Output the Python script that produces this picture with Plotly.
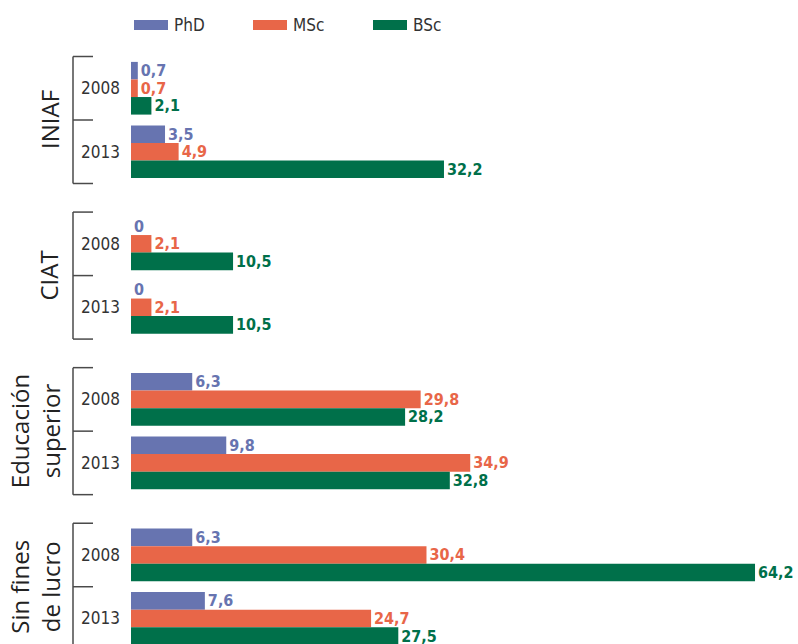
import plotly.graph_objects as go

groups = ["INIAF", "CIAT", "Educación<br>superior", "Sin fines<br>de lucro"]
years = ["2008", "2013"]
series = ["PhD", "MSc", "BSc"]
phd = [0.7, 3.5, 0, 0, 6.3, 9.8, 6.3, 7.6]
msc = [0.7, 4.9, 2.1, 2.1, 29.8, 34.9, 30.4, 24.7]
bsc = [2.1, 32.2, 10.5, 10.5, 28.2, 32.8, 64.2, 27.5]
colors = ["#6774B0", "#E86648", "#00704A"]

W, H = 798, 644
ML = 131
PX_PER_UNIT = 9.72
G = 2.45            # group pitch in slot units
SLOT_PX = 63.5
TOP0 = 88.25        # pixel of first slot centre

pos = [g * G + y for g in range(len(groups)) for y in range(len(years))]


def fmt(v):
    if v == 0:
        return "0"
    return f"{v:.1f}".replace(".", ",")


fig = go.Figure()
NUMFONT = "DejaVu Sans Condensed, Liberation Sans Narrow, sans-serif"
LABFONT = "DejaVu Sans Condensed, Liberation Sans, sans-serif"
for name, vals, col in zip(series, [phd, msc, bsc], colors):
    fig.add_trace(go.Bar(
        name=name, x=vals, y=pos, orientation="h",
        marker=dict(color=col, line=dict(width=0)),
        text=[fmt(v) for v in vals], textposition="outside",
        textfont=dict(family=NUMFONT, size=16, color=col, weight="bold"),
        cliponaxis=False, constraintext="none", showlegend=False,
        hoverinfo="skip",
    ))

def px_to_paper_x(px):
    return (px - ML) / (W - ML)

def px_to_paper_y(py):
    return 1 - py / H

shapes = []
annotations = []
LINE = dict(color="#4a4a4a", width=1.5)
bx0, bx1 = px_to_paper_x(73), px_to_paper_x(93)
for g, lab in enumerate(groups):
    base = g * G
    top, mid, bot = base - 0.5, base + 0.5, base + 1.5
    shapes.append(dict(type="line", xref="paper", yref="y", x0=bx0, x1=bx0, y0=top, y1=bot, line=LINE))
    for yy in (top, mid, bot):
        shapes.append(dict(type="line", xref="paper", yref="y", x0=bx0, x1=bx1, y0=yy, y1=yy, line=LINE))
    two = "<br>" in lab
    annotations.append(dict(
        text=lab, xref="paper", yref="y", x=px_to_paper_x(35 if two else 49), y=base + 0.5,
        textangle=-90, showarrow=False, xanchor="center", yanchor="middle",
        font=dict(family="Open Sans, Noto Sans, sans-serif", size=24, color="#222222"),
    ))
    for yi, yr in enumerate(years):
        annotations.append(dict(
            text=yr, xref="paper", yref="y", x=px_to_paper_x(100), y=base + yi,
            showarrow=False, xanchor="center", yanchor="middle",
            font=dict(family=LABFONT, size=17, color="#333333"),
        ))

# legend
leg_x = [134, 253, 373]
for name, col, lx in zip(series, colors, leg_x):
    shapes.append(dict(type="rect", xref="paper", yref="paper",
                       x0=px_to_paper_x(lx), x1=px_to_paper_x(lx + 34),
                       y0=px_to_paper_y(30), y1=px_to_paper_y(20),
                       fillcolor=col, line=dict(width=0)))
    annotations.append(dict(
        text=name, xref="paper", yref="paper", x=px_to_paper_x(lx + 38), y=px_to_paper_y(25),
        showarrow=False, xanchor="left", yanchor="middle",
        font=dict(family=LABFONT, size=17, color="#333333"),
    ))

y_top = -TOP0 / SLOT_PX
y_bot = (H - TOP0) / SLOT_PX

fig.update_layout(
    width=W, height=H,
    margin=dict(l=ML, r=0, t=0, b=0, pad=0),
    barmode="group", bargap=0.17, bargroupgap=0,
    plot_bgcolor="white", paper_bgcolor="white",
    xaxis=dict(range=[0, (W - ML) / PX_PER_UNIT], visible=False),
    yaxis=dict(range=[y_bot, y_top], visible=False),
    shapes=shapes, annotations=annotations,
    showlegend=False,
)

fig.write_html("out.html", config={"displayModeBar": False},
               post_script="document.body.style.margin='0';document.body.style.overflow='hidden';")
